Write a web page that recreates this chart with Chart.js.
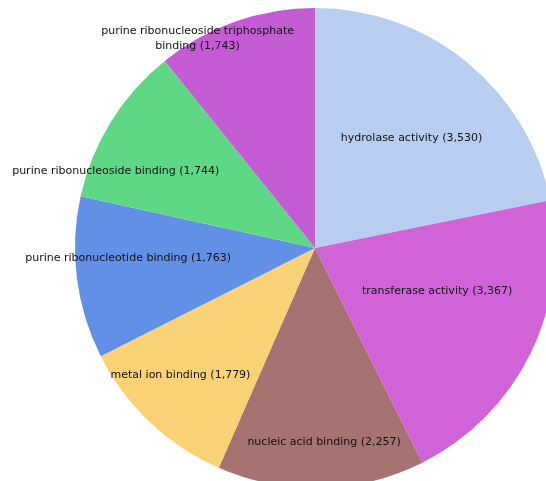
<!DOCTYPE html>
<html>
<head>
<meta charset="utf-8">
<script src="https://cdn.jsdelivr.net/npm/chart.js@4"></script>
<style>
  html, body { margin: 0; padding: 0; overflow: hidden; background: #fff; }
  #wrap { position: absolute; left: 0; top: 0; width: 630px; height: 496px; }
</style>
</head>
<body>
<div id="wrap"><canvas id="pieChart" width="630" height="496"></canvas></div>
<script>
const categories = [
  "hydrolase activity",
  "transferase activity",
  "nucleic acid binding",
  "metal ion binding",
  "purine ribonucleotide binding",
  "purine ribonucleoside binding",
  "purine ribonucleoside triphosphate binding",
];
const counts = [3530, 3367, 2257, 1779, 1763, 1744, 1743];
const sliceColors = [
  "#b8cdf0",
  "#d063d8",
  "#a67272",
  "#f8d274",
  "#6290e6",
  "#5ed884",
  "#c35cd3",
];
// where each label sits: [fraction of radius, angle shift in degrees]
const labelPlacement = [
  [0.61, 2],
  [0.54, -6.5],
  [0.81, -1.2],
  [0.77, 3.3],
  [0.78, 4.1],
  [0.89, -10.7],
  [1.0, -9.9],
];

const labelFont = "11px 'DejaVu Sans', Verdana, sans-serif";

function wrapText(ctx, text, maxWidth) {
  const words = text.split(" ");
  let lines = [];
  let line = "";
  words.forEach((w) => {
    const test = line ? line + " " + w : w;
    if (ctx.measureText(test).width > maxWidth && line) {
      lines.push(line);
      line = w;
    } else {
      line = test;
    }
  });
  if (line) lines.push(line);
  return lines;
}

const sliceLabels = {
  id: "sliceLabels",
  afterDatasetsDraw(chart) {
    const ctx = chart.ctx;
    const meta = chart.getDatasetMeta(0);
    ctx.save();
    ctx.font = labelFont;
    ctx.fillStyle = "#111";
    ctx.textAlign = "center";
    ctx.textBaseline = "middle";
    meta.data.forEach((arc, i) => {
      const text = categories[i] + " (" + counts[i].toLocaleString("en-US") + ")";
      const place = labelPlacement[i];
      const mid = (arc.startAngle + arc.endAngle) / 2 + (place[1] * Math.PI) / 180;
      const r = arc.outerRadius * place[0];
      const x = arc.x + Math.cos(mid) * r;
      const y = arc.y + Math.sin(mid) * r;
      const lines = wrapText(ctx, text, 230);
      const lh = 15;
      lines.forEach((ln, k) => {
        ctx.fillText(ln, x, y + (k - (lines.length - 1) / 2) * lh);
      });
    });
    ctx.restore();
  },
};

new Chart(document.getElementById("pieChart").getContext("2d"), {
  type: "pie",
  data: {
    labels: categories,
    datasets: [
      {
        data: counts,
        backgroundColor: sliceColors,
        borderWidth: 0,
        hoverOffset: 0,
      },
    ],
  },
  options: {
    responsive: false,
    animation: false,
    layout: { padding: { left: 75, right: 75, top: 8, bottom: 8 } },
    plugins: {
      legend: { display: false },
      tooltip: { enabled: false },
    },
  },
  plugins: [sliceLabels],
});
</script>
</body>
</html>
